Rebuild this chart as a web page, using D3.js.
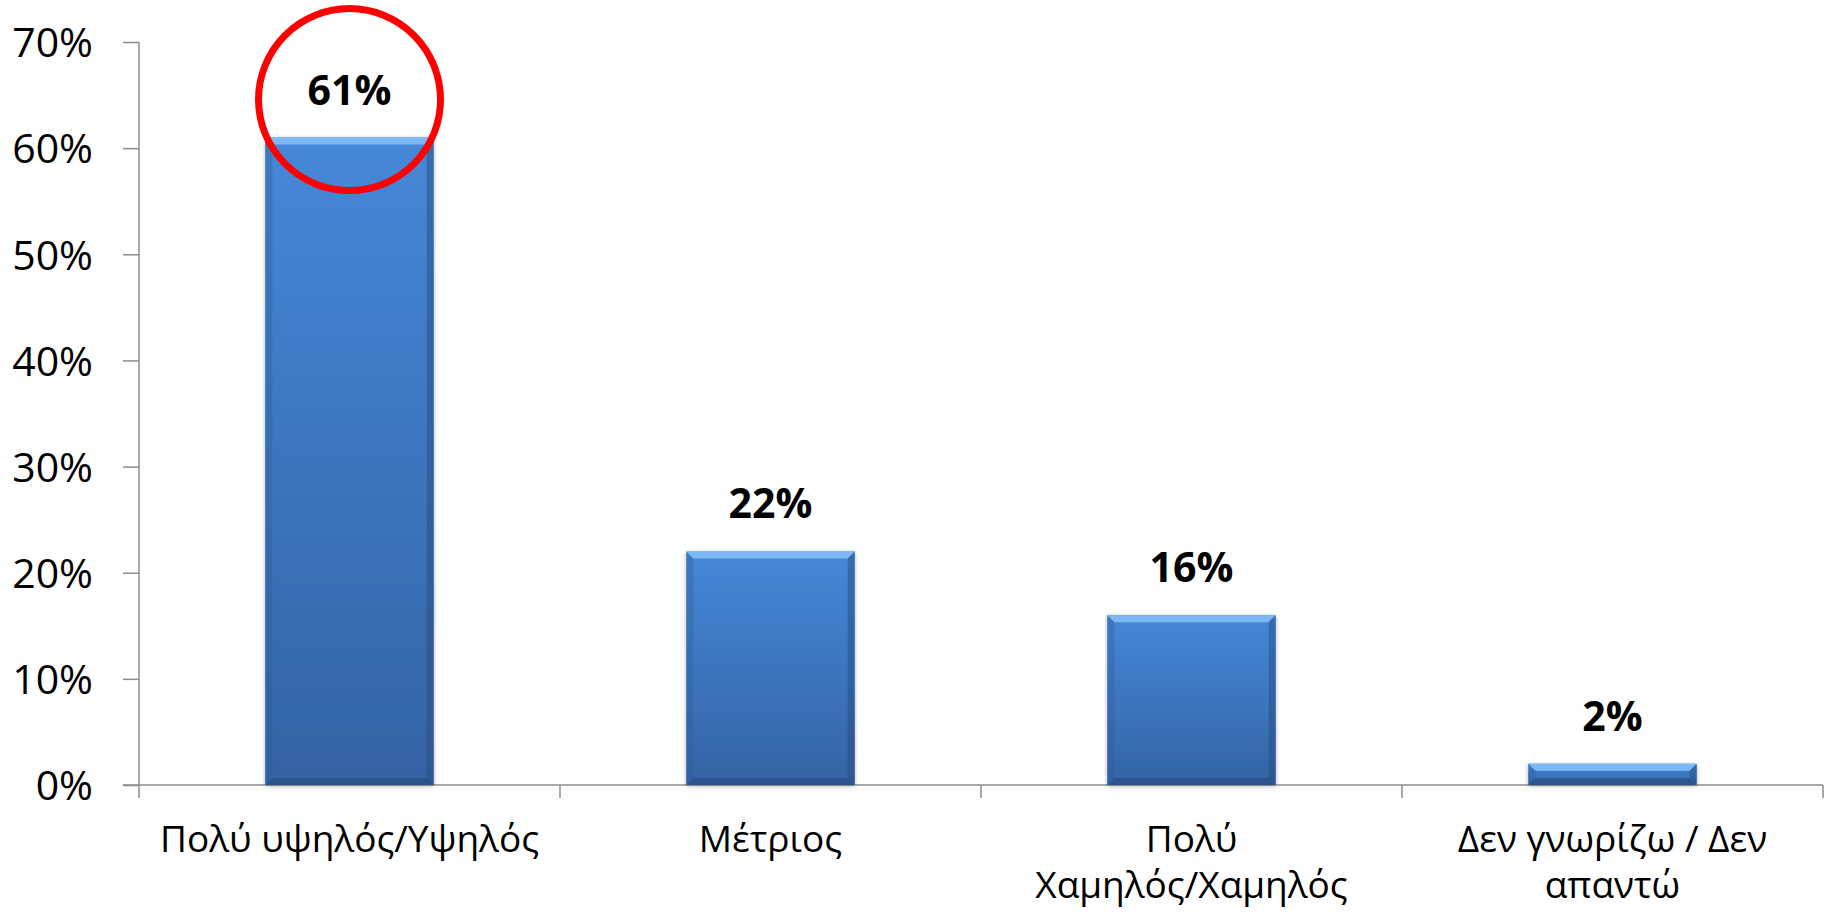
<!DOCTYPE html>
<html lang="el"><head><meta charset="utf-8">
<script src="https://cdn.jsdelivr.net/npm/d3@7"></script>
<style>
  body { margin: 0; background: #fff; }
  text { font-family: "Open Sans", "Noto Sans", sans-serif; fill: #000; }
</style>
</head>
<body>
<script>
// survey answers, share of respondents
var categories = [
    ["Πολύ υψηλός/Υψηλός"],
    ["Μέτριος"],
    ["Πολύ", "Χαμηλός/Χαμηλός"],
    ["Δεν γνωρίζω / Δεν", "απαντώ"]
];
var values = [0.61, 0.22, 0.16, 0.02];
var yTicks = [0, 0.1, 0.2, 0.3, 0.4, 0.5, 0.6, 0.7];
var highlighted = 0;   // bar with the red circle

var width = 1829;
var height = 912;
// note: "top" is a reserved window property, so use plot* names
var plotLeft = 139, plotRight = 1823, plotTop = 42, plotBottom = 785;

var svg = d3.select("body").append("svg")
    .attr("width", width)
    .attr("height", height);

var x = d3.scaleBand()
    .domain(d3.range(categories.length))
    .range([plotLeft, plotRight])
    .paddingInner(0.6)
    .paddingOuter(0.3);

var y = d3.scaleLinear()
    .domain([0, 0.7])
    .range([plotBottom, plotTop]);

var pct = d3.format(".0%");

// gradient for the bars
var defs = svg.append("defs");
var grad = defs.append("linearGradient")
    .attr("id", "barFill")
    .attr("x1", 0).attr("y1", 0).attr("x2", 0).attr("y2", 1);
grad.append("stop").attr("offset", "0%").attr("stop-color", "#4588d8");
grad.append("stop").attr("offset", "100%").attr("stop-color", "#3463a4");

var shadow = defs.append("filter").attr("id", "shadow")
    .attr("x", "-10%").attr("y", "-10%").attr("width", "120%").attr("height", "120%");
shadow.append("feGaussianBlur").attr("in", "SourceAlpha").attr("stdDeviation", 2);
shadow.append("feOffset").attr("dx", 0).attr("dy", 1).attr("result", "blur");
shadow.append("feComponentTransfer").append("feFuncA").attr("type", "linear").attr("slope", 0.35);
var merge = shadow.append("feMerge");
merge.append("feMergeNode");
merge.append("feMergeNode").attr("in", "SourceGraphic");

// y axis
var yAxis = d3.axisLeft(y)
    .tickValues(yTicks)
    .tickFormat(pct)
    .tickSize(16)
    .tickPadding(30);

var gy = svg.append("g")
    .attr("transform", "translate(" + plotLeft + ",0)")
    .call(yAxis);
gy.select(".domain").attr("stroke", "#8c8c8c").attr("stroke-width", 1.5)
    .attr("d", "M0," + plotTop + "V" + plotBottom);
gy.selectAll(".tick line").attr("stroke", "#8c8c8c").attr("stroke-width", 1.5);
gy.selectAll(".tick text")
    .attr("font-size", 41)
    .attr("font-family", "'Open Sans', sans-serif")
    .attr("fill", "#000")
    .attr("dy", "0.36em");

// x axis baseline and category ticks
svg.append("line")
    .attr("x1", plotLeft - 16).attr("x2", plotRight)
    .attr("y1", plotBottom).attr("y2", plotBottom)
    .attr("stroke", "#8c8c8c").attr("stroke-width", 1.5);

var step = x.step();
var bounds = d3.range(categories.length + 1).map(function(i) {
    return x(0) - step * x.paddingInner() / 2 + i * step;
});
svg.selectAll(".xtick").data(bounds).enter()
    .append("line")
    .attr("class", "xtick")
    .attr("x1", d => d).attr("x2", d => d)
    .attr("y1", plotBottom).attr("y2", plotBottom + 13)
    .attr("stroke", "#8c8c8c").attr("stroke-width", 1.5);

// category labels
var labels = svg.selectAll(".cat").data(categories).enter()
    .append("text")
    .attr("class", "cat")
    .attr("text-anchor", "middle")
    .attr("font-size", 37);
labels.each(function(lines, i) {
    var t = d3.select(this);
    lines.forEach(function(line, j) {
        t.append("tspan")
            .attr("x", x(i) + x.bandwidth() / 2)
            .attr("y", plotBottom + 67 + j * 46)
            .text(line);
    });
});

// bars with a bevel
var bw = x.bandwidth();
var bev = 7;
var bars = svg.selectAll(".bar").data(values).enter()
    .append("g").attr("class", "bar");

bars.append("rect")
    .attr("x", (d, i) => x(i))
    .attr("y", d => y(d))
    .attr("width", bw)
    .attr("height", d => plotBottom - y(d))
    .attr("fill", "url(#barFill)")
    .attr("filter", "url(#shadow)");

function bevel(d, i, side) {
    var x0 = x(i), x1 = x(i) + bw, y0 = y(d), y1 = plotBottom;
    var b = Math.min(bev, (y1 - y0) / 2);
    if (side == "top") return [[x0, y0], [x1, y0], [x1 - b, y0 + b], [x0 + b, y0 + b]];
    if (side == "bottom") return [[x0, y1], [x1, y1], [x1 - b, y1 - b], [x0 + b, y1 - b]];
    if (side == "left") return [[x0, y0], [x0 + b, y0 + b], [x0 + b, y1 - b], [x0, y1]];
    return [[x1, y0], [x1 - b, y0 + b], [x1 - b, y1 - b], [x1, y1]];
}
var bevelStyle = {
    top: ["#7cb9f4", 1],
    left: ["#2f5d9c", 0.35],
    right: ["#24497d", 0.45],
    bottom: ["#1f3f6e", 0.4]
};
["top", "left", "right", "bottom"].forEach(function(side) {
    bars.append("polygon")
        .attr("points", (d, i) => bevel(d, i, side).join(" "))
        .attr("fill", bevelStyle[side][0])
        .attr("fill-opacity", bevelStyle[side][1]);
});

// value labels
svg.selectAll(".val").data(values).enter()
    .append("text")
    .attr("class", "val")
    .attr("x", (d, i) => x(i) + bw / 2)
    .attr("y", d => y(d) - 33)
    .attr("text-anchor", "middle")
    .attr("font-size", 41)
    .attr("font-weight", "bold")
    .text(d => pct(d));

// red circle round the top answer
svg.append("circle")
    .attr("cx", x(highlighted) + bw / 2)
    .attr("cy", y(values[highlighted]) - 38)
    .attr("r", 91)
    .attr("fill", "none")
    .attr("stroke", "#ff0000")
    .attr("stroke-width", 7);
</script>
</body></html>
